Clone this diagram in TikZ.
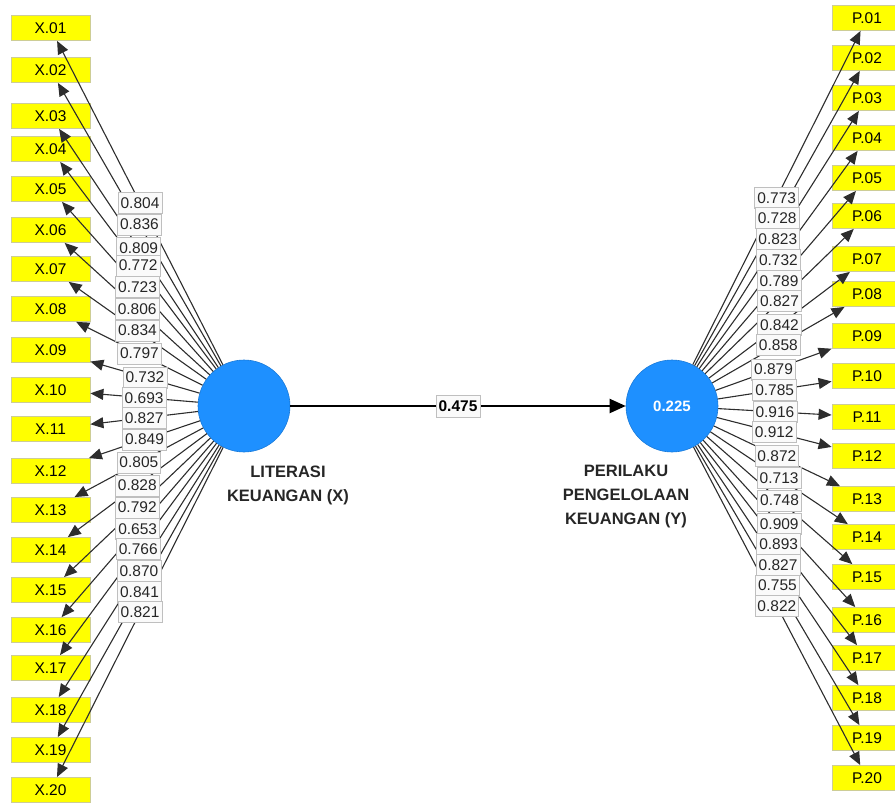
\documentclass[tikz,border=0pt]{standalone}
\usepackage{fontspec}
\setmainfont{Liberation Sans}
\usetikzlibrary{arrows.meta}
\definecolor{lvblue}{RGB}{30,144,255}
\definecolor{indyel}{RGB}{255,255,0}
\definecolor{indedge}{RGB}{205,205,150}
\definecolor{lineg}{RGB}{45,45,45}
\begin{document}
\begin{tikzpicture}[x=1pt,y=-1pt,
  ind/.style={rectangle, fill=indyel, draw=indedge, line width=0.8pt, minimum width=79pt, minimum height=25pt, inner sep=0pt, font=\fontsize{15.5}{18}\selectfont},
  indr/.style={ind, minimum width=70pt},
  lv/.style={circle, fill=lvblue, draw=lvblue!85!black, line width=0.6pt, minimum size=92pt, inner sep=0pt, text=white, font=\bfseries\fontsize{15}{18}\selectfont},
  load/.style={line width=1.1pt, draw=lineg, -{Triangle[length=13pt,width=11pt]}},
  wlbl/.style={fill=black!2, draw=black!25, line width=0.6pt, inner xsep=2.5pt, inner ysep=0pt, minimum height=21pt, text=black!85, font=\fontsize{15.5}{18}\selectfont},
  lvname/.style={align=center, font=\bfseries\fontsize{16.5}{24}\selectfont, text=black!85},
  pathlbl/.style={fill=black!2, draw=black!25, line width=0.6pt, inner xsep=2.5pt, inner ysep=0pt, minimum height=22pt, font=\bfseries\fontsize{15.5}{18}\selectfont},
  path/.style={line width=2pt, draw=black, -{Triangle[length=16pt,width=14pt]}}
]
\useasboundingbox (0,0) rectangle (895,803);
\clip (0,0) rectangle (895,803);

\node[lv] (L) at (244,406) {};
\node[lv] (R) at (672,406) {0.225};
\node[lvname] (Lname) at (288,485) {LITERASI\\KEUANGAN (X)};
\node[lvname] (Rname) at (626,497) {PERILAKU\\PENGELOLAAN\\KEUANGAN (Y)};

\foreach \yy [count=\i] in {28,70,116,149,189,230,269,309,350,390,429,471,510,550,590,630,668,710,750,790}
  {\node[ind] (X\i) at (50.5,\yy) {X.\ifnum\i<10 0\fi\i};}
\foreach \yy [count=\i] in {18,58,98,138,178,216,259,294,336,376,417,456,499,537,577,620,658,698,738,778}
  {\node[indr] (P\i) at (867,\yy) {P.\ifnum\i<10 0\fi\i};}

\foreach \i in {1,...,20}{
  \draw[load] (L) -- coordinate[pos=0.5] (mX\i) (X\i);
  \draw[load] (R) -- coordinate[pos=0.5] (mP\i) (P\i);
}

\foreach \v [count=\i] in {0.804,0.836,0.809,0.772,0.723,0.806,0.834,0.797,0.732,0.693,0.827,0.849,0.805,0.828,0.792,0.653,0.766,0.870,0.841,0.821}
  {\node[wlbl] (lX\i) at (mX\i) {\v};}
\foreach \v [count=\i] in {0.773,0.728,0.823,0.732,0.789,0.827,0.842,0.858,0.879,0.785,0.916,0.912,0.872,0.713,0.748,0.909,0.893,0.827,0.755,0.822}
  {\node[wlbl] (lP\i) at (mP\i) {\v};}

\draw[path] (L) -- node[pathlbl] (pl) {0.475} (R);
\end{tikzpicture}
\end{document}
